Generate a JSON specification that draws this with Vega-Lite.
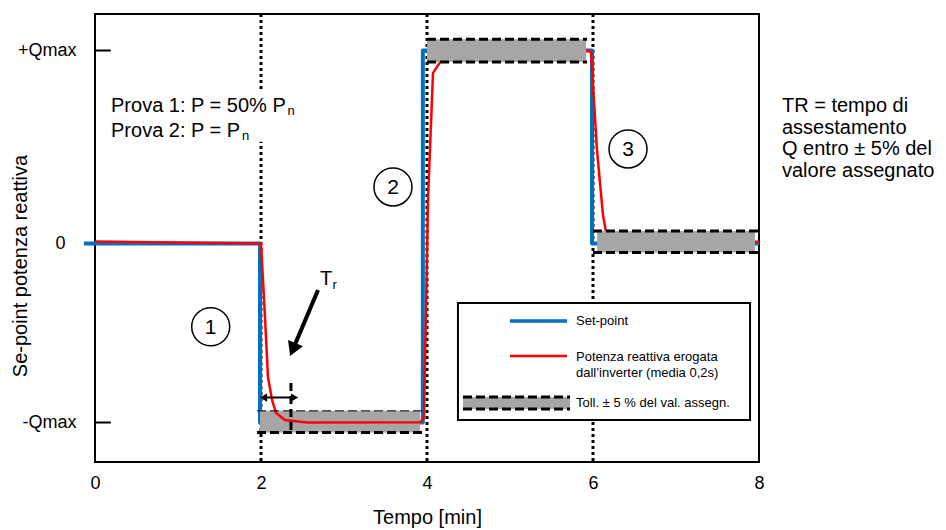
{
  "$schema": "https://vega.github.io/schema/vega-lite/v6.json",
  "width": 664,
  "height": 448,
  "autosize": {"type": "none"},
  "padding": {"left": 95, "top": 14, "right": 187, "bottom": 68},
  "background": "white",
  "config": {
    "font": "Liberation Sans",
    "view": {"stroke": "black", "strokeWidth": 2},
    "text": {"font": "Liberation Sans", "color": "black"},
    "axis": {"grid": false, "ticks": false, "domain": false, "labelColor": "black", "titleColor": "black", "titleFontWeight": "normal", "labelFont": "Liberation Sans", "titleFont": "Liberation Sans"}
  },
  "datasets": {
    "tempi": [{"t": 2}, {"t": 4}, {"t": 6}],
    "setpoint": [
      {"t": -0.133, "q": 0}, {"t": 1.988, "q": 0}, {"t": 1.988, "q": -1},
      {"t": 3.95, "q": -1}, {"t": 3.95, "q": 1}, {"t": 5.988, "q": 1},
      {"t": 5.988, "q": 0}, {"t": 8.0, "q": 0}
    ],
    "potenza": [
      {"t": 0, "q": 0.011}, {"t": 2.0, "q": 0}, {"t": 2.048, "q": -0.411},
      {"t": 2.084, "q": -0.746}, {"t": 2.133, "q": -0.874}, {"t": 2.181, "q": -0.947},
      {"t": 2.289, "q": -0.986}, {"t": 2.554, "q": -1.0}, {"t": 3.916, "q": -0.999},
      {"t": 3.964, "q": -0.975}, {"t": 4.012, "q": 0.225}, {"t": 4.072, "q": 0.883},
      {"t": 4.157, "q": 0.94}, {"t": 4.337, "q": 0.987}, {"t": 5.928, "q": 1.0},
      {"t": 5.976, "q": 0.992}, {"t": 6.048, "q": 0.484}, {"t": 6.12, "q": 0.148},
      {"t": 6.157, "q": 0.06}, {"t": 6.229, "q": 0.013}, {"t": 8.0, "q": 0.009}
    ],
    "bande": [
      {"banda": "-Qmax", "t": 1.988, "t2": 3.916, "lt": 1.952, "lt2": 3.976, "qhi": -0.935, "qlo": -1.056},
      {"banda": "+Qmax", "t": 4.0, "t2": 5.916, "lt": 4.0, "lt2": 5.928, "qhi": 1.058, "qlo": 0.94},
      {"banda": "0", "t": 6.05, "t2": 7.952, "lt": 6.0, "lt2": 8.0, "qhi": 0.065, "qlo": -0.05}
    ],
    "cerchi": [
      {"n": "1", "t": 1.394, "q": -0.465},
      {"n": "2", "t": 3.59, "q": 0.293},
      {"n": "3", "t": 6.422, "q": 0.49}
    ]
  },
  "layer": [
    {
      "data": {"name": "tempi"},
      "mark": {"type": "rule", "strokeDash": [3, 3], "strokeWidth": 3, "color": "black"},
      "encoding": {
        "x": {
          "field": "t", "type": "quantitative",
          "scale": {"domain": [0, 8], "nice": false, "zero": false},
          "axis": {
            "title": "Tempo [min]", "values": [0, 2, 4, 6, 8], "format": "d", "ticks": false, "domain": false, "grid": false,
            "labelFontSize": 18, "labelPadding": 12, "labelColor": "black", "labelFlush": false,
            "titleFontSize": 20, "titleFontWeight": "normal", "titleColor": "black", "titlePadding": 15
          }
        }
      }
    },
    {
      "data": {"values": [{"t": 0.15, "t2": 2.1, "q": 0.787, "q2": 0.527}]},
      "mark": {"type": "rect", "color": "white"},
      "encoding": {
        "x": {"field": "t", "type": "quantitative"},
        "x2": {"field": "t2"},
        "y": {"field": "q", "type": "quantitative"},
        "y2": {"field": "q2"}
      }
    },
    {
      "data": {"name": "setpoint"},
      "mark": {"type": "line", "color": "#0070C0", "strokeWidth": 4, "strokeJoin": "round", "clip": false},
      "encoding": {
        "x": {"field": "t", "type": "quantitative"},
        "y": {
          "field": "q", "type": "quantitative",
          "scale": {"type": "linear", "domain": [-1.2207, -1, 0, 1, 1.1891], "range": [448, 408.5, 229.5, 36.5, 0], "nice": false, "zero": false},
          "axis": {
            "title": "Se-point potenza reattiva", "values": [-1, 0, 1],
            "labelExpr": "datum.value > 0 ? '+Qmax' : (datum.value < 0 ? '-Qmax' : '0')",
            "ticks": false, "domain": false, "grid": false,
            "labelFontSize": 18, "labelColor": "black",
            "labelPadding": {"condition": {"test": "datum.value == 0", "value": 30}, "value": 19},
            "titleFontSize": 20, "titleFontWeight": "normal", "titleColor": "black",
            "titleX": -75, "titleY": 251.5, "titleBaseline": "middle"
          }
        },
        "order": {"field": "idx"}
      }
    },
    {
      "data": {"name": "bande"},
      "transform": [{"filter": "datum.banda == '-Qmax'"}],
      "mark": {"type": "rect", "color": "#A6A6A6"},
      "encoding": {
        "x": {"field": "t", "type": "quantitative"},
        "x2": {"field": "t2"},
        "y": {"field": "qhi", "type": "quantitative"},
        "y2": {"field": "qlo"}
      }
    },
    {
      "data": {"name": "potenza"},
      "mark": {"type": "line", "color": "#FF0000", "strokeWidth": 2.5},
      "encoding": {
        "x": {"field": "t", "type": "quantitative"},
        "y": {"field": "q", "type": "quantitative"},
        "order": {"field": "idx"}
      }
    },
    {
      "data": {"name": "bande"},
      "transform": [{"filter": "datum.banda != '-Qmax'"}],
      "mark": {"type": "rect", "color": "#A6A6A6"},
      "encoding": {
        "x": {"field": "t", "type": "quantitative"},
        "x2": {"field": "t2"},
        "y": {"field": "qhi", "type": "quantitative"},
        "y2": {"field": "qlo"}
      }
    },
    {
      "data": {"name": "bande"},
      "mark": {"type": "rule", "color": "black", "strokeDash": [9, 4]},
      "encoding": {
        "x": {"field": "lt", "type": "quantitative"},
        "x2": {"field": "lt2"},
        "y": {"field": "qhi", "type": "quantitative"},
        "strokeWidth": {"condition": {"test": "datum.banda == '-Qmax'", "value": 1}, "value": 3}
      }
    },
    {
      "data": {"name": "bande"},
      "mark": {"type": "rule", "color": "black", "strokeDash": [9, 4], "strokeWidth": 3},
      "encoding": {
        "x": {"field": "lt", "type": "quantitative"},
        "x2": {"field": "lt2"},
        "y": {"field": "qlo", "type": "quantitative"}
      }
    },
    {
      "data": {"values": [{"q": 1}, {"q": -1}]},
      "mark": {"type": "rule", "color": "black", "strokeWidth": 2},
      "encoding": {
        "x": {"datum": 0, "type": "quantitative"},
        "x2": {"datum": 0.19},
        "y": {"field": "q", "type": "quantitative"}
      }
    },
    {
      "data": {"values": [{"t": 2.361, "q": -0.779, "q2": -1.042}]},
      "mark": {"type": "rule", "color": "black", "strokeWidth": 3, "strokeDash": [8, 5]},
      "encoding": {
        "x": {"field": "t", "type": "quantitative"},
        "y": {"field": "q", "type": "quantitative"},
        "y2": {"field": "q2"}
      }
    },
    {
      "data": {"values": [{"t": 2.02, "t2": 2.41, "q": -0.861}]},
      "mark": {"type": "rule", "color": "black", "strokeWidth": 2},
      "encoding": {
        "x": {"field": "t", "type": "quantitative"},
        "x2": {"field": "t2"},
        "y": {"field": "q", "type": "quantitative"}
      }
    },
    {
      "data": {"values": [{"t": 2.03, "q": -0.861, "verso": "sinistra"}, {"t": 2.404, "q": -0.861, "verso": "destra"}]},
      "mark": {"type": "point", "filled": true, "color": "black", "opacity": 1, "size": 70},
      "encoding": {
        "x": {"field": "t", "type": "quantitative"},
        "y": {"field": "q", "type": "quantitative"},
        "shape": {"field": "verso", "type": "nominal", "scale": {"domain": ["sinistra", "destra"], "range": ["triangle-left", "triangle-right"]}, "legend": null}
      }
    },
    {
      "data": {"values": [{"t": 2.687, "q": -0.26, "idx": 0}, {"t": 2.383, "q": -0.593, "idx": 1}]},
      "mark": {"type": "line", "color": "black", "strokeWidth": 4},
      "encoding": {
        "x": {"field": "t", "type": "quantitative"},
        "y": {"field": "q", "type": "quantitative"},
        "order": {"field": "idx"}
      }
    },
    {
      "data": {"values": [{"t": 2.383, "q": -0.593}]},
      "mark": {"type": "point", "shape": "triangle-up", "filled": true, "color": "black", "opacity": 1, "size": 260, "angle": 203},
      "encoding": {
        "x": {"field": "t", "type": "quantitative"},
        "y": {"field": "q", "type": "quantitative"}
      }
    },
    {
      "data": {"name": "cerchi"},
      "mark": {"type": "point", "shape": "circle", "filled": false, "color": "black", "opacity": 1, "strokeWidth": 1.5, "size": 1444},
      "encoding": {
        "x": {"field": "t", "type": "quantitative"},
        "y": {"field": "q", "type": "quantitative"}
      }
    },
    {
      "data": {"name": "cerchi"},
      "mark": {"type": "text", "fontSize": 21, "align": "center", "baseline": "middle", "dy": 1},
      "encoding": {
        "x": {"field": "t", "type": "quantitative"},
        "y": {"field": "q", "type": "quantitative"},
        "text": {"field": "n"}
      }
    },
    {
      "data": {"values": [
        {"t": 0.193, "q": 0.681, "testo": ["Prova 1: P = 50% P", "Prova 2: P = P"]},
        {"t": 2.711, "q": -0.232, "testo": "T"}
      ]},
      "mark": {"type": "text", "fontSize": 20, "align": "left", "baseline": "alphabetic", "lineHeight": 25},
      "encoding": {
        "x": {"field": "t", "type": "quantitative"},
        "y": {"field": "q", "type": "quantitative"},
        "text": {"field": "testo"}
      }
    },
    {
      "data": {"values": [
        {"t": 8.277, "q": 0.681, "testo": ["TR = tempo di", "assestamento", "Q entro ± 5% del", "valore assegnato"]}
      ]},
      "mark": {"type": "text", "fontSize": 20, "align": "left", "baseline": "alphabetic", "lineHeight": 21.7},
      "encoding": {
        "x": {"field": "t", "type": "quantitative"},
        "y": {"field": "q", "type": "quantitative"},
        "text": {"field": "testo"}
      }
    },
    {
      "data": {"values": [
        {"t": 2.32, "q": 0.666, "testo": "n"},
        {"t": 1.77, "q": 0.536, "testo": "n"},
        {"t": 2.86, "q": -0.254, "testo": "r"}
      ]},
      "mark": {"type": "text", "fontSize": 13, "align": "left", "baseline": "alphabetic"},
      "encoding": {
        "x": {"field": "t", "type": "quantitative"},
        "y": {"field": "q", "type": "quantitative"},
        "text": {"field": "testo"}
      }
    },
    {
      "data": {"values": [{"t": 4.373, "t2": 7.892, "q": -0.332, "q2": -0.986}]},
      "mark": {"type": "rect", "fill": "white", "stroke": "black", "strokeWidth": 2},
      "encoding": {
        "x": {"field": "t", "type": "quantitative"},
        "x2": {"field": "t2"},
        "y": {"field": "q", "type": "quantitative"},
        "y2": {"field": "q2"}
      }
    },
    {
      "data": {"values": [{"t": 4.434, "t2": 5.723, "q": -0.858, "q2": -0.925}]},
      "mark": {"type": "rect", "color": "#A6A6A6"},
      "encoding": {
        "x": {"field": "t", "type": "quantitative"},
        "x2": {"field": "t2"},
        "y": {"field": "q", "type": "quantitative"},
        "y2": {"field": "q2"}
      }
    },
    {
      "data": {"values": [{"t": 4.434, "t2": 5.723, "q": -0.858}, {"t": 4.434, "t2": 5.723, "q": -0.925}]},
      "mark": {"type": "rule", "color": "black", "strokeWidth": 3, "strokeDash": [9, 4]},
      "encoding": {
        "x": {"field": "t", "type": "quantitative"},
        "x2": {"field": "t2"},
        "y": {"field": "q", "type": "quantitative"}
      }
    },
    {
      "data": {"values": [{"t": 5.0, "t2": 5.687, "q": -0.433}]},
      "mark": {"type": "rule", "color": "#0070C0", "strokeWidth": 3.5},
      "encoding": {
        "x": {"field": "t", "type": "quantitative"},
        "x2": {"field": "t2"},
        "y": {"field": "q", "type": "quantitative"}
      }
    },
    {
      "data": {"values": [{"t": 5.0, "t2": 5.687, "q": -0.628}]},
      "mark": {"type": "rule", "color": "#FF0000", "strokeWidth": 2.5},
      "encoding": {
        "x": {"field": "t", "type": "quantitative"},
        "x2": {"field": "t2"},
        "y": {"field": "q", "type": "quantitative"}
      }
    },
    {
      "data": {"values": [
        {"t": 5.795, "q": -0.458, "testo": "Set-point"},
        {"t": 5.795, "q": -0.654, "testo": ["Potenza reattiva erogata", "dall’inverter (media 0,2s)"]},
        {"t": 5.795, "q": -0.916, "testo": "Toll. ± 5 % del val. assegn."}
      ]},
      "mark": {"type": "text", "fontSize": 13, "align": "left", "baseline": "alphabetic", "lineHeight": 16},
      "encoding": {
        "x": {"field": "t", "type": "quantitative"},
        "y": {"field": "q", "type": "quantitative"},
        "text": {"field": "testo"}
      }
    }
  ]
}
